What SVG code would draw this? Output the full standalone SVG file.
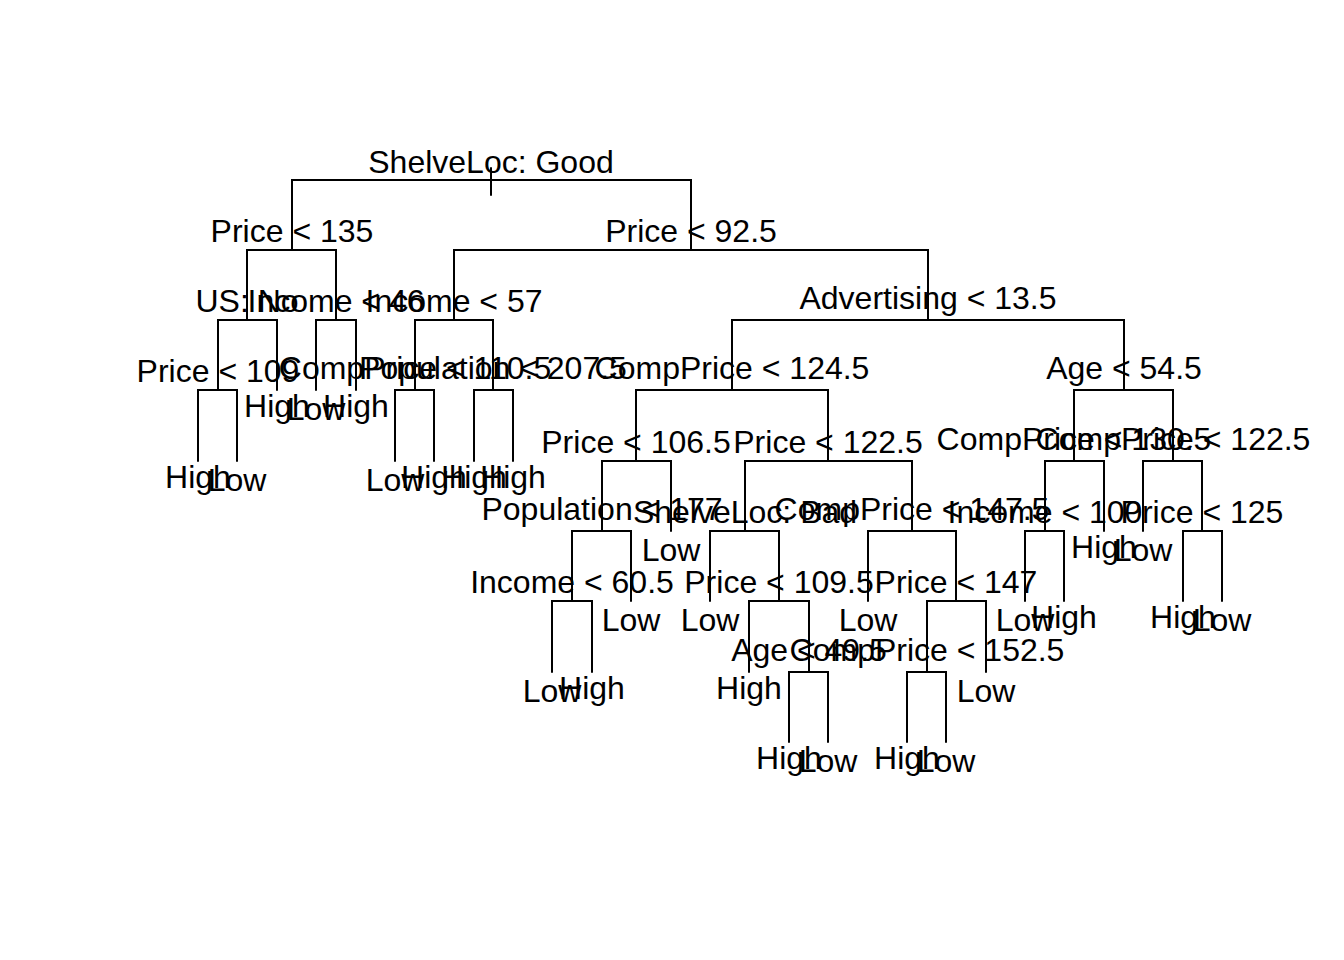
<svg xmlns="http://www.w3.org/2000/svg" width="1344" height="960" viewBox="0 0 1344 960">
<style>
.t{font-family:"Liberation Sans",Arial,Helvetica,sans-serif;font-size:32px;text-anchor:middle;fill:#000}
.e{stroke:#000;stroke-width:2;fill:none;stroke-linecap:round;stroke-linejoin:miter}
</style>
<rect width="1344" height="960" fill="#fff"/>
<g id="connectors" class="e">
<path d="M491 168V195"/>
<path d="M292 250V180H691V250"/>
<path d="M247 320V250H336V320"/>
<path d="M218 390V320H277V390"/>
<path d="M198 461V390H237V461"/>
<path d="M316 390V320H356V390"/>
<path d="M454 320V250H928V320"/>
<path d="M415 390V320H493V390"/>
<path d="M395 461V390H434V461"/>
<path d="M474 461V390H513V461"/>
<path d="M732 390V320H1124V390"/>
<path d="M636 461V390H828V461"/>
<path d="M602 531V461H671V531"/>
<path d="M572 601V531H631V601"/>
<path d="M552 672V601H592V672"/>
<path d="M745 531V461H912V531"/>
<path d="M710 601V531H779V601"/>
<path d="M749 672V601H809V672"/>
<path d="M789 742V672H828V742"/>
<path d="M868 601V531H956V601"/>
<path d="M927 672V601H986V672"/>
<path d="M907 742V672H946V742"/>
<path d="M1074 461V390H1173V461"/>
<path d="M1045 531V461H1104V531"/>
<path d="M1025 601V531H1064V601"/>
<path d="M1143 531V461H1202V531"/>
<path d="M1183 601V531H1222V601"/>
</g>
<g id="n-root"><text class="t" x="491" y="173">ShelveLoc: Good</text></g>
<g id="n-price135"><text class="t" x="292" y="242">Price &lt; 135</text></g>
<g id="n-price92"><text class="t" x="691" y="242">Price &lt; 92.5</text></g>
<g id="n-usno"><text class="t" x="247" y="312">US: No</text></g>
<g id="n-income46"><text class="t" x="336" y="312">Income &lt; 46</text></g>
<g id="n-income57"><text class="t" x="454" y="312">Income &lt; 57</text></g>
<g id="n-adv"><text class="t" x="928" y="309">Advertising &lt; 13.5</text></g>
<g id="n-price109"><text class="t" x="218" y="382">Price &lt; 109</text></g>
<g id="n-comp110"><text class="t" x="415" y="379">CompPrice &lt; 110.5</text></g>
<g id="n-pop207"><text class="t" x="493" y="379">Population &lt; 207.5</text></g>
<g id="n-comp124"><text class="t" x="732" y="379">CompPrice &lt; 124.5</text></g>
<g id="n-age54"><text class="t" x="1124" y="379">Age &lt; 54.5</text></g>
<g id="n-price106"><text class="t" x="636" y="453">Price &lt; 106.5</text></g>
<g id="n-price122a"><text class="t" x="828" y="453">Price &lt; 122.5</text></g>
<g id="n-comp130"><text class="t" x="1074" y="450">CompPrice &lt; 130.5</text></g>
<g id="n-comp122"><text class="t" x="1173" y="450">CompPrice &lt; 122.5</text></g>
<g id="n-pop177"><text class="t" x="602" y="520">Population &lt; 177</text></g>
<g id="n-shelvebad"><text class="t" x="745" y="523">ShelveLoc: Bad</text></g>
<g id="n-comp147"><text class="t" x="912" y="520">CompPrice &lt; 147.5</text></g>
<g id="n-income100"><text class="t" x="1045" y="523">Income &lt; 100</text></g>
<g id="n-price125"><text class="t" x="1202" y="523">Price &lt; 125</text></g>
<g id="n-income60"><text class="t" x="572" y="593">Income &lt; 60.5</text></g>
<g id="n-price109b"><text class="t" x="779" y="593">Price &lt; 109.5</text></g>
<g id="n-price147"><text class="t" x="956" y="593">Price &lt; 147</text></g>
<g id="n-age49"><text class="t" x="809" y="661">Age &lt; 49.5</text></g>
<g id="n-comp152"><text class="t" x="927" y="661">CompPrice &lt; 152.5</text></g>
<g id="leaf-0"><text class="t" x="198" y="488">High</text></g>
<g id="leaf-1"><text class="t" x="237" y="491">Low</text></g>
<g id="leaf-2"><text class="t" x="277" y="417">High</text></g>
<g id="leaf-3"><text class="t" x="316" y="420">Low</text></g>
<g id="leaf-4"><text class="t" x="356" y="417">High</text></g>
<g id="leaf-5"><text class="t" x="395" y="491">Low</text></g>
<g id="leaf-6"><text class="t" x="434" y="488">High</text></g>
<g id="leaf-7"><text class="t" x="474" y="488">High</text></g>
<g id="leaf-8"><text class="t" x="513" y="488">High</text></g>
<g id="leaf-9"><text class="t" x="552" y="702">Low</text></g>
<g id="leaf-10"><text class="t" x="592" y="699">High</text></g>
<g id="leaf-11"><text class="t" x="631" y="631">Low</text></g>
<g id="leaf-12"><text class="t" x="671" y="561">Low</text></g>
<g id="leaf-13"><text class="t" x="710" y="631">Low</text></g>
<g id="leaf-14"><text class="t" x="749" y="699">High</text></g>
<g id="leaf-15"><text class="t" x="789" y="769">High</text></g>
<g id="leaf-16"><text class="t" x="828" y="772">Low</text></g>
<g id="leaf-17"><text class="t" x="868" y="631">Low</text></g>
<g id="leaf-18"><text class="t" x="907" y="769">High</text></g>
<g id="leaf-19"><text class="t" x="946" y="772">Low</text></g>
<g id="leaf-20"><text class="t" x="986" y="702">Low</text></g>
<g id="leaf-21"><text class="t" x="1025" y="631">Low</text></g>
<g id="leaf-22"><text class="t" x="1064" y="628">High</text></g>
<g id="leaf-23"><text class="t" x="1104" y="558">High</text></g>
<g id="leaf-24"><text class="t" x="1143" y="561">Low</text></g>
<g id="leaf-25"><text class="t" x="1183" y="628">High</text></g>
<g id="leaf-26"><text class="t" x="1222" y="631">Low</text></g>
</svg>
